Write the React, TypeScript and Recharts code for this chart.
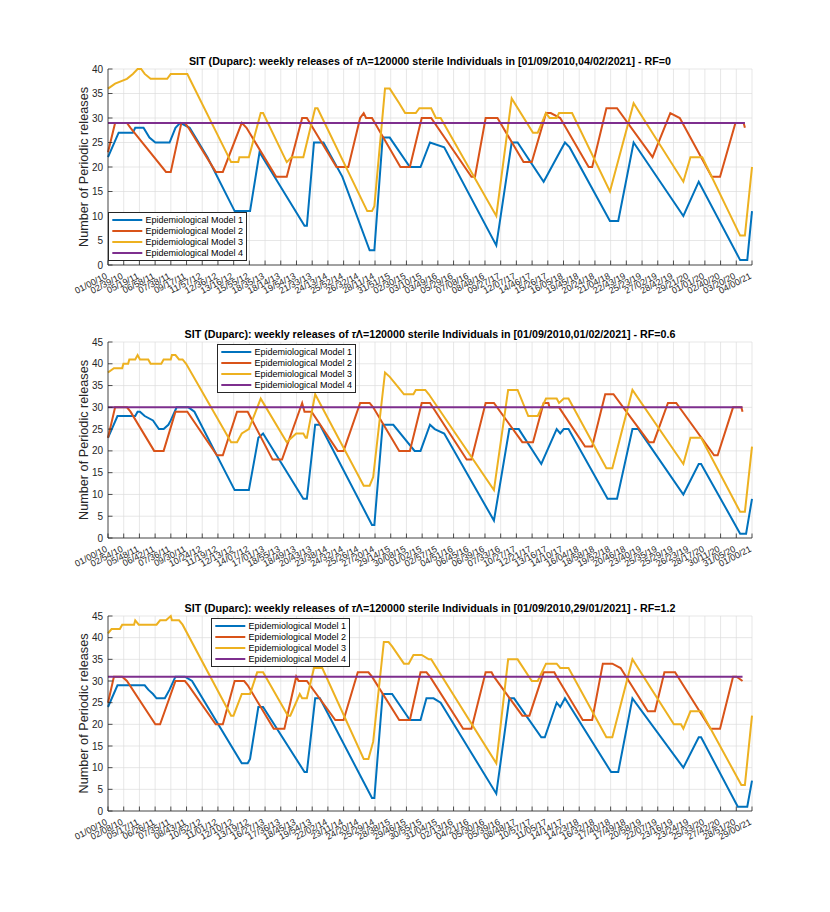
import React from 'react';
import { LineChart, Line, XAxis, YAxis, CartesianGrid, Legend } from 'recharts';

const FONT = '"Liberation Sans", Arial, Helvetica, sans-serif';
const AX = '#262626';
const COLORS = ['#0072BD', '#D95319', '#EDB120', '#7E2F8E'];
const SERIES_NAMES = [
  'Epidemiological Model 1',
  'Epidemiological Model 2',
  'Epidemiological Model 3',
  'Epidemiological Model 4',
];

// x axis in weeks since 01/09/2010
const X_END = 544;

const P1_TICK_LABELS = [
  '01/00/10', '02/39/10', '05/19/11', '06/58/11', '07/38/11', '09/17/11', '11/57/12', '12/36/12',
  '13/16/12', '15/55/12', '18/35/13', '18/14/13', '19/54/13', '21/33/13', '24/13/14', '25/52/14',
  '26/32/14', '28/11/14', '31/51/15', '02/30/15', '03/10/15', '03/49/16', '05/29/16', '07/08/16',
  '08/48/16', '09/27/17', '12/07/17', '14/46/17', '15/26/17', '16/05/18', '19/45/18', '20/24/18',
  '21/04/18', '22/43/19', '25/23/19', '27/02/19', '28/42/19', '29/21/20', '01/01/20', '02/40/20',
  '03/20/20', '04/00/21',
];
const P2_TICK_LABELS = [
  '01/00/10', '02/54/10', '05/48/11', '06/42/11', '07/36/11', '09/30/11', '10/24/12', '11/19/12',
  '12/13/12', '14/07/12', '17/01/13', '18/55/13', '18/49/13', '20/43/13', '23/38/14', '24/32/14',
  '25/26/14', '27/20/14', '29/14/15', '30/08/15', '01/02/15', '02/57/15', '04/51/16', '06/45/16',
  '06/39/16', '07/33/16', '10/27/17', '12/21/17', '13/16/17', '14/10/17', '16/04/18', '18/58/18',
  '19/52/18', '20/46/18', '23/40/19', '25/35/19', '25/29/19', '26/23/19', '28/17/20', '30/11/20',
  '31/05/20', '01/00/21',
];
const P3_TICK_LABELS = [
  '01/00/10', '02/08/10', '05/17/11', '06/26/11', '07/35/11', '08/43/11', '10/52/12', '11/01/12',
  '12/10/12', '13/19/12', '16/27/13', '17/36/13', '18/45/13', '19/54/13', '22/02/14', '23/11/14',
  '24/20/14', '25/29/14', '28/38/15', '29/46/15', '30/55/15', '31/04/15', '02/13/16', '04/21/16',
  '05/30/16', '05/39/16', '08/48/17', '10/57/17', '11/05/17', '14/14/17', '14/23/18', '16/32/18',
  '17/40/18', '17/49/18', '20/58/19', '22/07/19', '23/16/19', '23/24/19', '25/33/20', '27/42/20',
  '28/51/20', '29/00/21',
];

const TITLE_RANGES = ['01/09/2010,04/02/2021', '01/09/2010,01/02/2021', '01/09/2010,29/01/2021'];
const TITLE_RF = ['0', '0.6', '1.2'];

// ---------- Panel 1 (RF=0) ----------
const P1_M1_WEEKS = [0, 9, 21, 23, 30, 35, 40, 52, 57, 61, 69, 84, 107, 120, 128, 166, 168, 174, 182, 198, 221, 225, 232, 238, 255, 264, 272, 284, 328, 341, 346, 368, 386, 390, 424, 431, 444, 486, 499, 534, 540, 544];
const P1_M1_VALUES = [22, 27, 27, 28, 28, 26, 25, 25, 28, 29, 28, 22, 11, 11, 23, 8, 8, 25, 25, 18, 3, 3, 26, 26, 20, 20, 25, 24, 4, 25, 25, 17, 25, 24, 9, 9, 25, 10, 17, 1, 1, 11];
const P1_M2_WEEKS = [0, 6, 16, 19, 49, 53, 62, 65, 68, 91, 97, 113, 117, 142, 151, 164, 168, 193, 203, 213, 216, 218, 223, 247, 255, 265, 273, 307, 310, 319, 329, 351, 358, 370, 374, 382, 406, 409, 421, 430, 460, 475, 483, 510, 517, 530, 537, 538];
const P1_M2_VALUES = [23, 29, 29, 28, 19, 19, 29, 29, 28, 19, 19, 29, 28, 18, 18, 30, 30, 20, 20, 30, 31, 30, 30, 20, 20, 30, 30, 18, 18, 30, 30, 21, 21, 31, 31, 30, 20, 20, 32, 32, 22, 31, 30, 18, 18, 29, 29, 28];
const P1_M3_WEEKS = [0, 6, 16, 21, 25, 28, 31, 36, 50, 53, 67, 69, 104, 110, 111, 119, 129, 131, 151, 155, 165, 175, 177, 219, 223, 225, 234, 238, 246, 251, 260, 263, 273, 277, 281, 328, 341, 359, 363, 370, 373, 379, 381, 392, 424, 444, 486, 492, 502, 534, 538, 544];
const P1_M3_VALUES = [36, 37, 38, 39, 40, 40, 39, 38, 38, 39, 39, 38, 21, 21, 22, 22, 31, 31, 21, 22, 22, 32, 32, 11, 11, 12, 36, 36, 33, 31, 31, 32, 32, 30, 30, 10, 34, 27, 27, 31, 30, 30, 31, 31, 15, 33, 17, 22, 22, 6, 6, 20];
const P1_M4_WEEKS = [0, 538];
const P1_M4_VALUES = [29, 29];

// ---------- Panel 2 (RF=0.6) ----------
const P2_M1_WEEKS = [0, 8, 23, 25, 27, 31, 38, 43, 47, 51, 53, 58, 68, 73, 107, 119, 127, 131, 165, 168, 175, 179, 223, 225, 232, 241, 259, 264, 272, 276, 284, 326, 339, 347, 366, 379, 382, 385, 389, 422, 430, 443, 448, 486, 499, 501, 534, 539, 544];
const P2_M1_VALUES = [23, 28, 28, 29, 29, 28, 27, 25, 25, 26, 27, 30, 30, 29, 11, 11, 23, 24, 9, 9, 26, 26, 3, 3, 26, 26, 20, 20, 26, 25, 24, 4, 25, 25, 17, 25, 24, 25, 25, 9, 9, 25, 25, 10, 17, 17, 1, 1, 9];
const P2_M2_WEEKS = [0, 6, 16, 19, 39, 47, 57, 67, 92, 97, 109, 118, 139, 147, 164, 166, 172, 194, 199, 213, 221, 224, 246, 255, 265, 272, 303, 307, 319, 326, 350, 359, 368, 372, 373, 381, 403, 409, 420, 427, 457, 461, 473, 480, 512, 515, 528, 535, 536];
const P2_M2_VALUES = [23, 30, 30, 29, 20, 20, 29, 29, 19, 19, 29, 29, 18, 18, 31, 29, 29, 20, 20, 31, 31, 30, 20, 20, 31, 31, 18, 18, 31, 31, 22, 22, 31, 31, 30, 30, 21, 21, 33, 33, 22, 22, 31, 31, 19, 19, 30, 30, 29];
const P2_M3_WEEKS = [0, 5, 12, 13, 17, 18, 23, 25, 27, 34, 36, 45, 47, 53, 54, 57, 60, 63, 66, 104, 109, 113, 119, 129, 151, 155, 159, 165, 167, 168, 175, 216, 221, 224, 234, 238, 247, 250, 258, 260, 268, 271, 326, 338, 346, 355, 363, 370, 379, 381, 385, 389, 421, 426, 443, 486, 492, 501, 534, 538, 544];
const P2_M3_VALUES = [38, 39, 39, 40, 40, 41, 41, 42, 41, 41, 40, 40, 41, 41, 42, 42, 41, 41, 40, 22, 22, 24, 25, 32, 22, 23, 24, 24, 23, 23, 33, 12, 12, 14, 38, 37, 34, 33, 33, 34, 34, 33, 11, 34, 34, 28, 28, 32, 32, 31, 32, 32, 16, 16, 34, 17, 23, 23, 6, 6, 21];
const P2_M4_WEEKS = [0, 536];
const P2_M4_VALUES = [30, 30];

// ---------- Panel 3 (RF=1.2) ----------
const P3_M1_WEEKS = [0, 8, 31, 34, 38, 41, 48, 50, 52, 57, 65, 71, 113, 118, 120, 127, 131, 166, 168, 175, 179, 223, 225, 232, 240, 255, 264, 269, 275, 281, 328, 339, 343, 366, 369, 379, 382, 386, 425, 431, 443, 486, 499, 501, 532, 540, 544];
const P3_M1_VALUES = [24, 29, 29, 28, 27, 26, 26, 27, 28, 31, 31, 30, 11, 11, 12, 24, 24, 9, 9, 26, 26, 3, 3, 27, 27, 21, 21, 26, 26, 25, 4, 26, 26, 17, 17, 25, 24, 26, 9, 9, 26, 10, 17, 17, 1, 1, 7];
const P3_M2_WEEKS = [0, 5, 12, 16, 40, 44, 57, 65, 68, 91, 97, 107, 115, 118, 140, 149, 159, 161, 168, 192, 199, 211, 220, 223, 246, 255, 264, 269, 272, 300, 307, 319, 324, 326, 350, 356, 368, 377, 379, 401, 409, 418, 426, 433, 456, 462, 470, 479, 509, 517, 528, 531, 536];
const P3_M2_VALUES = [25, 31, 31, 30, 20, 20, 30, 30, 29, 20, 20, 30, 30, 29, 19, 19, 31, 30, 30, 21, 21, 32, 32, 31, 21, 21, 32, 32, 31, 19, 19, 32, 32, 31, 22, 22, 32, 32, 31, 21, 21, 34, 34, 33, 23, 23, 32, 32, 19, 19, 31, 31, 30];
const P3_M3_WEEKS = [0, 3, 10, 12, 22, 23, 26, 41, 44, 49, 53, 54, 60, 63, 104, 106, 113, 120, 126, 131, 152, 154, 162, 164, 168, 174, 181, 216, 220, 224, 233, 237, 240, 250, 254, 258, 265, 271, 273, 328, 338, 346, 358, 363, 370, 379, 382, 389, 421, 426, 443, 478, 484, 486, 492, 501, 535, 538, 544];
const P3_M3_VALUES = [41, 42, 42, 43, 43, 44, 43, 43, 44, 44, 45, 44, 44, 43, 22, 22, 27, 27, 32, 32, 22, 22, 27, 26, 26, 33, 33, 12, 12, 16, 39, 39, 38, 34, 34, 36, 36, 35, 35, 11, 35, 35, 30, 30, 34, 34, 33, 33, 17, 17, 35, 20, 20, 19, 23, 23, 6, 6, 22];
const P3_M4_WEEKS = [0, 536];
const P3_M4_VALUES = [31, 31];

const zip = (weeks: number[], values: number[]) => weeks.map((w, i) => ({ w, v: values[i] }));

const X_TICKS = P1_TICK_LABELS.map((_, i) => (i * X_END) / 41);

const PANELS = [
  {
    top: 0, marginTop: 69, plotH: 196, yMax: 40, labels: P1_TICK_LABELS,
    legendLeft: 108, legendTop: 212,
    series: [zip(P1_M1_WEEKS, P1_M1_VALUES), zip(P1_M2_WEEKS, P1_M2_VALUES), zip(P1_M3_WEEKS, P1_M3_VALUES), zip(P1_M4_WEEKS, P1_M4_VALUES)],
  },
  {
    top: 300, marginTop: 42, plotH: 196, yMax: 45, labels: P2_TICK_LABELS,
    legendLeft: 217, legendTop: 44,
    series: [zip(P2_M1_WEEKS, P2_M1_VALUES), zip(P2_M2_WEEKS, P2_M2_VALUES), zip(P2_M3_WEEKS, P2_M3_VALUES), zip(P2_M4_WEEKS, P2_M4_VALUES)],
  },
  {
    top: 575, marginTop: 41, plotH: 195, yMax: 45, labels: P3_TICK_LABELS,
    legendLeft: 211, legendTop: 43,
    series: [zip(P3_M1_WEEKS, P3_M1_VALUES), zip(P3_M2_WEEKS, P3_M2_VALUES), zip(P3_M3_WEEKS, P3_M3_VALUES), zip(P3_M4_WEEKS, P3_M4_VALUES)],
  },
];

const TICK_LEN = 4.5;

const makeBottomTick = (labels: string[]) => (props: any) => {
  const { x, y, payload } = props;
  const idx = Math.round((payload.value * 41) / X_END);
  const ty = y + 13;
  return (
    <g>
      <line x1={x} y1={y} x2={x} y2={y - TICK_LEN} stroke={AX} strokeWidth={0.8} />
      <text
        x={x}
        y={ty}
        textAnchor="end"
        fontSize={9}
        fontFamily={FONT}
        fill={AX}
        transform={`rotate(-27, ${x}, ${ty})`}
      >
        {labels[idx]}
      </text>
    </g>
  );
};

const TopTick = (props: any) => {
  const { x, y } = props;
  return <line x1={x} y1={y} x2={x} y2={y + TICK_LEN} stroke={AX} strokeWidth={0.8} />;
};

const LeftTick = (props: any) => {
  const { x, y, payload } = props;
  return (
    <g>
      <line x1={x} y1={y} x2={x + TICK_LEN} y2={y} stroke={AX} strokeWidth={0.8} />
      <text x={x - 5} y={y + 3.6} textAnchor="end" fontSize={10} fontFamily={FONT} fill={AX}>
        {payload.value}
      </text>
    </g>
  );
};

const RightTick = (props: any) => {
  const { x, y } = props;
  return <line x1={x} y1={y} x2={x - TICK_LEN} y2={y} stroke={AX} strokeWidth={0.8} />;
};

const LegendBox = () => (
  <div
    style={{
      border: `1px solid ${AX}`,
      background: '#fff',
      width: 137,
      paddingTop: 2,
      paddingBottom: 1.5,
      fontFamily: FONT,
      fontSize: 9,
      color: '#000',
      lineHeight: '10.9px',
    }}
  >
    {SERIES_NAMES.map((name, i) => (
      <div key={name} style={{ display: 'flex', alignItems: 'center', height: 10.9, whiteSpace: 'nowrap' }}>
        <svg width={36.5} height={10} style={{ flex: 'none' }}>
          <line x1={3.3} x2={33.3} y1={5} y2={5} stroke={COLORS[i]} strokeWidth={2} />
        </svg>
        <span>{name}</span>
      </div>
    ))}
  </div>
);

function Panel({ p }: { p: any }) {
  const height = p.marginTop + p.plotH + 40;
  const yTicks: number[] = [];
  for (let v = 0; v <= p.yMax; v += 5) yTicks.push(v);
  const BottomTick = makeBottomTick(p.labels);
  return (
    <div style={{ position: 'absolute', left: 0, top: p.top, width: 830, height }}>
      <LineChart width={830} height={height} margin={{ top: p.marginTop, right: 78, bottom: 0, left: 0 }}>
        <CartesianGrid stroke="#dcdcdc" strokeWidth={0.7} />
        <XAxis
          dataKey="w"
          type="number"
          domain={[0, X_END]}
          ticks={X_TICKS}
          interval={0}
          height={40}
          tickSize={0}
          tickMargin={0}
          tickLine={false}
          stroke={AX}
          strokeWidth={0.8}
          tick={BottomTick}
        />
        <XAxis
          xAxisId="top"
          orientation="top"
          type="number"
          domain={[0, X_END]}
          ticks={X_TICKS}
          interval={0}
          height={0}
          tickSize={0}
          tickMargin={0}
          tickLine={false}
          stroke={AX}
          strokeWidth={0.8}
          tick={TopTick}
        />
        <YAxis
          type="number"
          domain={[0, p.yMax]}
          ticks={yTicks}
          interval={0}
          width={108}
          tickSize={0}
          tickMargin={0}
          tickLine={false}
          stroke={AX}
          strokeWidth={0.8}
          tick={LeftTick}
        />
        <YAxis
          yAxisId="right"
          orientation="right"
          type="number"
          domain={[0, p.yMax]}
          ticks={yTicks}
          interval={0}
          width={0}
          tickSize={0}
          tickMargin={0}
          tickLine={false}
          stroke={AX}
          strokeWidth={0.8}
          tick={RightTick}
        />
        {p.series.map((data: any[], i: number) => (
          <Line
            key={SERIES_NAMES[i]}
            name={SERIES_NAMES[i]}
            data={data}
            dataKey="v"
            type="linear"
            stroke={COLORS[i]}
            strokeWidth={2}
            dot={false}
            activeDot={false}
            isAnimationActive={false}
          />
        ))}
        <Legend
          layout="horizontal"
          verticalAlign="middle"
          align="center"
          content={() => <LegendBox />}
          wrapperStyle={{ left: p.legendLeft, top: p.legendTop, width: 'auto', height: 'auto' }}
        />
      </LineChart>
    </div>
  );
}

export default function App() {
  return (
    <div style={{ position: 'absolute', left: 0, top: 0, width: 830, height: 912, background: '#fff', fontFamily: FONT }}>
      {PANELS.map((p, i) => (
        <Panel key={i} p={p} />
      ))}
      <svg width={830} height={912} style={{ position: 'absolute', left: 0, top: 0, pointerEvents: 'none' }}>
        {PANELS.map((p, i) => {
          const plotTop = p.top + p.marginTop;
          const mid = plotTop + p.plotH / 2;
          return (
            <g key={i}>
              <text x={430} y={plotTop - 4.5} textAnchor="middle" fontSize={10.7} fontWeight="bold" fontFamily={FONT} fill="#000">
                SIT (Duparc): weekly releases of <tspan fontStyle="italic">τ</tspan>Λ=120000 sterile Individuals in [{TITLE_RANGES[i]}] - RF={TITLE_RF[i]}
              </text>
              <text
                transform={`translate(87.5, ${mid}) rotate(-90)`}
                textAnchor="middle"
                fontSize={12.7}
                fontFamily={FONT}
                fill={AX}
              >
                Number of Periodic releases
              </text>
            </g>
          );
        })}
      </svg>
    </div>
  );
}
